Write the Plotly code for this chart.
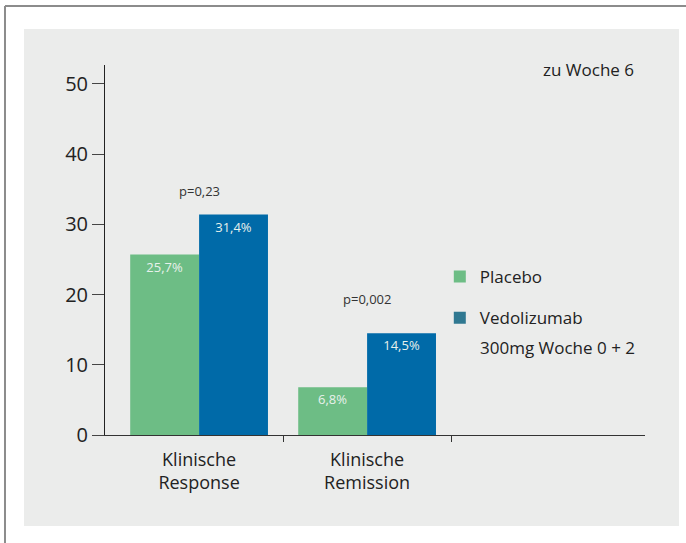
import plotly.graph_objects as go

# Outcome categories and response rates (%) at week 6
categories = ["Klinische<br>Response", "Klinische<br>Remission"]
placebo = [25.7, 6.8]
vedolizumab = [31.4, 14.5]
p_values = ["p=0,23", "p=0,002"]
p_label_y = [34.8, 19.4]
y_ticks = [0, 10, 20, 30, 40, 50]

GREEN = "#6dbd85"
BLUE = "#006aa8"
LEGEND_BLUE = "#2f7891"
PANEL = "#ebeceb"
TEXT = "#222222"
FONT = "Open Sans"
BAR_W = 0.41

x_pos = list(range(len(categories)))

fig = go.Figure()

bar_text_font = dict(family=FONT, size=13, color="#e8f1ec")
fig.add_trace(go.Bar(
    x=x_pos, y=placebo, width=BAR_W, offset=-BAR_W,
    marker=dict(color=GREEN, line=dict(width=0)),
    texttemplate="%{y:.1f}%", textposition="inside", insidetextanchor="end",
    textangle=0, textfont=bar_text_font, showlegend=False, hoverinfo="skip",
))
fig.add_trace(go.Bar(
    x=x_pos, y=vedolizumab, width=BAR_W, offset=0,
    marker=dict(color=BLUE, line=dict(width=0)),
    texttemplate="%{y:.1f}%", textposition="inside", insidetextanchor="end",
    textangle=0, textfont=bar_text_font, showlegend=False, hoverinfo="skip",
))

# Legend entries
fig.add_trace(go.Bar(x=[None], y=[None], name="Placebo", legendgroup="a",
                     marker=dict(color=GREEN, line=dict(width=0))))
fig.add_trace(go.Bar(x=[None], y=[None], name="Vedolizumab", legendgroup="b",
                     marker=dict(color=LEGEND_BLUE, line=dict(width=0))))

# p-value labels above each group
for xi, txt, yy in zip(x_pos, p_values, p_label_y):
    fig.add_annotation(x=xi, y=yy, xref="x", yref="y", text=txt, showarrow=False,
                       font=dict(family=FONT, size=13, color="#333333"))

fig.add_annotation(x=0.896, y=0.9865, xref="paper", yref="paper", text="zu Woche 6",
                   showarrow=False, xanchor="center", yanchor="middle",
                   font=dict(family=FONT, size=17, color=TEXT))
fig.add_annotation(x=0.6907, y=0.2378, xref="paper", yref="paper",
                   text="300mg Woche 0 + 2", showarrow=False,
                   xanchor="left", yanchor="middle",
                   font=dict(family=FONT, size=17, color=TEXT))

# grey background panel and outer frame
fig.add_shape(type="rect", xref="paper", yref="paper", layer="below",
              x0=-0.15, x1=1.063, y0=-0.2459, y1=1.0973,
              fillcolor=PANEL, line=dict(width=0))
fig.add_shape(type="line", xref="paper", yref="paper", layer="below",
              x0=-0.1852, x1=1.2, y0=1.1595, y1=1.1595,
              line=dict(color="#8c8c8c", width=2))
fig.add_shape(type="line", xref="paper", yref="paper", layer="below",
              x0=-0.1852, x1=-0.1852, y0=-0.3, y1=1.1595,
              line=dict(color="#8c8c8c", width=2))

fig.update_layout(
    width=686, height=543,
    margin=dict(l=105, r=41, t=65, b=108),
    paper_bgcolor="white", plot_bgcolor="rgba(0,0,0,0)",
    barmode="group", bargap=0.18, bargroupgap=0,
    separators=",.",
    font=dict(family=FONT, color=TEXT),
    showlegend=True,
    legend=dict(x=0.62, y=0.4757, xanchor="left", yanchor="top",
                bgcolor="rgba(0,0,0,0)", borderwidth=0,
                font=dict(family=FONT, size=17, color=TEXT),
                traceorder="grouped", tracegroupgap=16, itemclick=False),
    xaxis=dict(
        range=[-0.56, 2.654], tickmode="array", tickvals=x_pos, ticktext=categories,
        ticks="", showgrid=False, zeroline=False, showline=True,
        linecolor="#333333", linewidth=1, ticklabelstandoff=8,
        tickfont=dict(family=FONT, size=18, color=TEXT),
        minor=dict(tickmode="array", tickvals=[0.5, 1.5], ticks="outside",
                   ticklen=6, tickcolor="#333333", tickwidth=1, showgrid=False),
    ),
    yaxis=dict(
        range=[0, 52.7], tickmode="array", tickvals=y_ticks,
        ticks="outside", ticklen=12, tickcolor="#444444", tickwidth=1,
        showgrid=False, zeroline=False, showline=True,
        linecolor="#222222", linewidth=1,
        tickfont=dict(family=FONT, size=20, color=TEXT),
    ),
)

fig.write_html("out.html")
